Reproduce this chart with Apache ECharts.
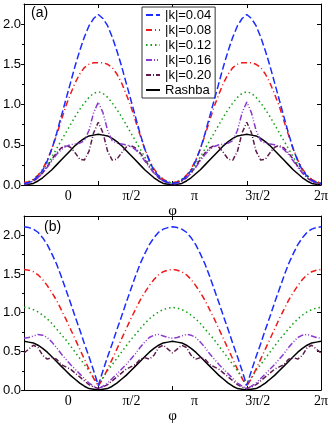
<!DOCTYPE html>
<html>
<head>
<meta charset="utf-8">
<script src="https://cdn.jsdelivr.net/npm/echarts@6/dist/echarts.min.js"></script>
<style>
  html, body { margin: 0; padding: 0; background: #fff; }
  #chart { width: 332px; height: 425px; }
</style>
</head>
<body>
<div id="chart"></div>
<script>
// phi sampled every pi/32 over [0, 2pi], stored in units of pi
const phi = Array.from({length: 65}, (_, i) => i / 32);

const names = ['|k|=0.04', '|k|=0.08', '|k|=0.12', '|k|=0.16', '|k|=0.20', 'Rashba'];
const xLabels = ['0', 'π/2', 'π', '3π/2', '2π'];
const yLabels = [0, 0.5, 1, 1.5, 2];

// panel (a)
const blueA = [0.02,0.03,0.06,0.11,0.18,0.30,0.45,0.64,0.85,1.06,1.27,1.48,1.67,1.84,1.98,2.07,2.12,
  2.07,1.98,1.84,1.67,1.48,1.27,1.06,0.85,0.64,0.45,0.30,0.18,0.11,0.06,0.03,0.02,
  0.03,0.06,0.11,0.18,0.30,0.45,0.64,0.85,1.06,1.27,1.48,1.67,1.84,1.98,2.07,2.12,
  2.07,1.98,1.84,1.67,1.48,1.27,1.06,0.85,0.64,0.45,0.30,0.18,0.11,0.06,0.03,0.02];
const redA = [0.03,0.04,0.07,0.12,0.20,0.31,0.45,0.62,0.80,0.98,1.13,1.27,1.38,1.46,1.50,1.52,1.52,
  1.52,1.50,1.46,1.38,1.27,1.13,0.98,0.80,0.62,0.45,0.31,0.20,0.12,0.07,0.04,0.03,
  0.04,0.07,0.12,0.20,0.31,0.45,0.62,0.80,0.98,1.13,1.27,1.38,1.46,1.50,1.52,1.52,
  1.52,1.50,1.46,1.38,1.27,1.13,0.98,0.80,0.62,0.45,0.31,0.20,0.12,0.07,0.04,0.03];
const greenA = [0.02,0.04,0.07,0.12,0.18,0.26,0.35,0.45,0.55,0.65,0.75,0.85,0.94,1.02,1.09,1.14,1.16,
  1.14,1.09,1.02,0.94,0.85,0.75,0.65,0.55,0.45,0.35,0.26,0.18,0.12,0.07,0.04,0.02,
  0.04,0.07,0.12,0.18,0.26,0.35,0.45,0.55,0.65,0.75,0.85,0.94,1.02,1.09,1.14,1.16,
  1.14,1.09,1.02,0.94,0.85,0.75,0.65,0.55,0.45,0.35,0.26,0.18,0.12,0.07,0.04,0.02];
const violetA = [0.01,0.02,0.05,0.09,0.15,0.22,0.30,0.38,0.44,0.48,0.50,0.51,0.52,0.55,0.68,0.90,1.03,
  0.90,0.68,0.55,0.52,0.51,0.50,0.48,0.44,0.38,0.30,0.22,0.15,0.09,0.05,0.02,0.01,
  0.02,0.05,0.09,0.15,0.22,0.30,0.38,0.44,0.48,0.50,0.51,0.52,0.55,0.68,0.90,1.03,
  0.90,0.68,0.55,0.52,0.51,0.50,0.48,0.44,0.38,0.30,0.22,0.15,0.09,0.05,0.02,0.01];
const purpleA = [0.02,0.03,0.05,0.09,0.15,0.23,0.32,0.40,0.46,0.49,0.47,0.40,0.32,0.31,0.42,0.65,0.78,
  0.65,0.42,0.31,0.32,0.40,0.47,0.49,0.46,0.40,0.32,0.23,0.15,0.09,0.05,0.03,0.02,
  0.03,0.05,0.09,0.15,0.23,0.32,0.40,0.46,0.49,0.47,0.40,0.32,0.31,0.42,0.65,0.78,
  0.65,0.42,0.31,0.32,0.40,0.47,0.49,0.46,0.40,0.32,0.23,0.15,0.09,0.05,0.03,0.02];
const blackA = [0.00,0.01,0.02,0.05,0.09,0.14,0.19,0.25,0.31,0.37,0.43,0.49,0.54,0.58,0.61,0.62,0.63,
  0.62,0.61,0.58,0.54,0.49,0.43,0.37,0.31,0.25,0.19,0.14,0.09,0.05,0.02,0.01,0.00,
  0.01,0.02,0.05,0.09,0.14,0.19,0.25,0.31,0.37,0.43,0.49,0.54,0.58,0.61,0.62,0.63,
  0.62,0.61,0.58,0.54,0.49,0.43,0.37,0.31,0.25,0.19,0.14,0.09,0.05,0.02,0.01,0.00];

// panel (b)
const blueB = [2.11,2.10,2.08,2.04,1.97,1.88,1.76,1.63,1.47,1.30,1.13,0.95,0.78,0.60,0.43,0.25,0.06,
  0.25,0.43,0.60,0.78,0.95,1.13,1.30,1.47,1.63,1.76,1.88,1.97,2.04,2.08,2.10,2.11,
  2.10,2.08,2.04,1.97,1.88,1.76,1.63,1.47,1.30,1.13,0.95,0.78,0.60,0.43,0.25,0.06,
  0.25,0.43,0.60,0.78,0.95,1.13,1.30,1.47,1.63,1.76,1.88,1.97,2.04,2.08,2.10,2.11];
const redB = [1.56,1.55,1.53,1.49,1.43,1.35,1.26,1.16,1.04,0.92,0.79,0.66,0.53,0.40,0.27,0.15,0.05,
  0.15,0.27,0.40,0.53,0.66,0.79,0.92,1.04,1.16,1.26,1.35,1.43,1.49,1.53,1.55,1.56,
  1.55,1.53,1.49,1.43,1.35,1.26,1.16,1.04,0.92,0.79,0.66,0.53,0.40,0.27,0.15,0.05,
  0.15,0.27,0.40,0.53,0.66,0.79,0.92,1.04,1.16,1.26,1.35,1.43,1.49,1.53,1.55,1.56];
const greenB = [1.07,1.06,1.04,1.01,0.97,0.92,0.86,0.79,0.72,0.65,0.57,0.49,0.41,0.33,0.25,0.16,0.07,
  0.16,0.25,0.33,0.41,0.49,0.57,0.65,0.72,0.79,0.86,0.92,0.97,1.01,1.04,1.06,1.07,
  1.06,1.04,1.01,0.97,0.92,0.86,0.79,0.72,0.65,0.57,0.49,0.41,0.33,0.25,0.16,0.07,
  0.16,0.25,0.33,0.41,0.49,0.57,0.65,0.72,0.79,0.86,0.92,0.97,1.01,1.04,1.06,1.07];
const violetB = [0.67,0.68,0.70,0.72,0.71,0.68,0.62,0.55,0.47,0.40,0.33,0.27,0.21,0.15,0.09,0.05,0.02,
  0.05,0.09,0.15,0.21,0.27,0.33,0.40,0.47,0.55,0.62,0.68,0.71,0.72,0.70,0.68,0.67,
  0.68,0.70,0.72,0.71,0.68,0.62,0.55,0.47,0.40,0.33,0.27,0.21,0.15,0.09,0.05,0.02,
  0.05,0.09,0.15,0.21,0.27,0.33,0.40,0.47,0.55,0.62,0.68,0.71,0.72,0.70,0.68,0.67];
const purpleB = [0.48,0.53,0.58,0.55,0.45,0.40,0.42,0.40,0.33,0.30,0.27,0.22,0.17,0.12,0.07,0.04,0.02,
  0.04,0.07,0.12,0.17,0.22,0.27,0.30,0.33,0.40,0.42,0.40,0.45,0.55,0.58,0.53,0.48,
  0.53,0.58,0.55,0.45,0.40,0.42,0.40,0.33,0.30,0.27,0.22,0.17,0.12,0.07,0.04,0.02,
  0.04,0.07,0.12,0.17,0.22,0.27,0.30,0.33,0.40,0.42,0.40,0.45,0.55,0.58,0.53,0.48];
const blackB = [0.63,0.62,0.61,0.58,0.54,0.49,0.43,0.37,0.31,0.25,0.19,0.14,0.09,0.05,0.02,0.01,0.00,
  0.01,0.02,0.05,0.09,0.14,0.19,0.25,0.31,0.37,0.43,0.49,0.54,0.58,0.61,0.62,0.63,
  0.62,0.61,0.58,0.54,0.49,0.43,0.37,0.31,0.25,0.19,0.14,0.09,0.05,0.02,0.01,0.00,
  0.01,0.02,0.05,0.09,0.14,0.19,0.25,0.31,0.37,0.43,0.49,0.54,0.58,0.61,0.62,0.63];

const panelA = [blueA, redA, greenA, violetA, purpleA, blackA];
const panelB = [blueB, redB, greenB, violetB, purpleB, blackB];

const colors = ['#1a2cff', '#f01818', '#10a010', '#8a3ad0', '#5e1a4e', '#000000'];
const dashes = [[7, 3], [6, 3, 1, 3], [1.5, 3], [6, 2, 1, 2, 1, 2], [5, 2, 1, 2], 'solid'];

const sans = 'Liberation Sans';
const serif = 'Liberation Serif';

let chart = echarts.init(document.getElementById('chart'));

let xAxes = [];
let yAxes = [];
[0, 1].forEach(function (g) {
  // bottom + top frame with inner ticks
  ['bottom', 'top'].forEach(function (pos) {
    xAxes.push({
      gridIndex: g, type: 'value', min: 0, max: 2, position: pos,
      axisLine: {show: true, onZero: false, lineStyle: {color: '#000', width: 1}},
      axisTick: {show: true, inside: true, length: 4, customValues: [0.5, 1, 1.5], lineStyle: {color: '#000'}},
      axisLabel: {show: false},
      splitLine: {show: false}
    });
  });
  // labels sit where the original put them (shifted from the ticks)
  xAxes.push({
    gridIndex: g, type: 'value', min: -0.7, max: 4, position: 'bottom',
    axisLine: {show: false, onZero: false}, axisTick: {show: false}, splitLine: {show: false},
    axisLabel: {
      customValues: [0, 1, 2, 3, 4], formatter: v => xLabels[Math.round(v)],
      fontFamily: serif, fontSize: 14, color: '#000', margin: 4
    },
    name: 'φ', nameLocation: 'middle', nameGap: 18,
    nameTextStyle: {fontFamily: serif, fontSize: 15, color: '#000'}
  });

  yAxes.push({
    gridIndex: g, type: 'value', min: 0, max: 2.25, position: 'left',
    axisLine: {show: true, onZero: false, lineStyle: {color: '#000'}},
    axisTick: {show: true, inside: false, length: 3, customValues: yLabels, lineStyle: {color: '#000'}},
    axisLabel: {customValues: yLabels, formatter: v => v.toFixed(1), fontFamily: sans, fontSize: 13, color: '#000', margin: 3},
    splitLine: {show: false}
  });
  yAxes.push({
    gridIndex: g, type: 'value', min: 0, max: 2.25, position: 'left',
    axisLine: {show: false, onZero: false}, axisLabel: {show: false}, splitLine: {show: false},
    axisTick: {show: true, inside: false, length: 2, customValues: [0.25, 0.75, 1.25, 1.75], lineStyle: {color: '#000'}}
  });
  yAxes.push({
    gridIndex: g, type: 'value', min: 0, max: 2.25, position: 'right',
    axisLine: {show: true, onZero: false, lineStyle: {color: '#000'}},
    axisTick: {show: true, inside: true, length: 4, customValues: yLabels, lineStyle: {color: '#000'}},
    axisLabel: {show: false}, splitLine: {show: false}
  });
});

let series = [];
[panelA, panelB].forEach(function (panel, g) {
  panel.forEach(function (vals, i) {
    series.push({
      name: names[i],
      type: 'line',
      xAxisIndex: g * 3,
      yAxisIndex: g * 3,
      symbol: 'none',
      data: phi.map((p, k) => [p, vals[k]]),
      lineStyle: {color: colors[i], width: 1.5, type: dashes[i]},
      itemStyle: {color: colors[i]},
      z: 10 - i
    });
  });
});

let option = {
  animation: false,
  backgroundColor: '#fff',
  title: [
    {text: '(a)', left: 31, top: 6, padding: 0, textStyle: {fontFamily: sans, fontSize: 14, fontWeight: 'normal', color: '#000'}},
    {text: '(b)', left: 44, top: 220, padding: 0, textStyle: {fontFamily: sans, fontSize: 14, fontWeight: 'normal', color: '#000'}}
  ],
  legend: {
    orient: 'vertical', left: 142, top: 7,
    itemWidth: 14, itemHeight: 8, itemGap: 1,
    padding: [1, 4, 1, 3],
    borderColor: '#333', borderWidth: 1, backgroundColor: '#fff',
    itemStyle: {opacity: 0},
    textStyle: {fontFamily: sans, fontSize: 13, color: '#000', lineHeight: 14},
    data: names
  },
  grid: [
    {left: 24, top: 4, width: 297, height: 181},
    {left: 24, top: 216, width: 297, height: 179}
  ],
  xAxis: xAxes,
  yAxis: yAxes,
  series: series
};

chart.setOption(option);
</script>
</body>
</html>
